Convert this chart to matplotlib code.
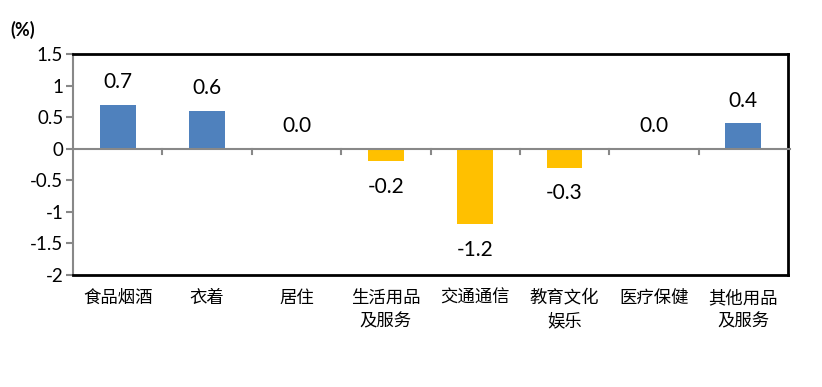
import matplotlib
matplotlib.use("Agg")
import matplotlib.pyplot as plt
import numpy as np

plt.rcParams['font.family'] = ['Lato', 'Noto Sans CJK SC', 'DejaVu Sans']

categories = ["食品烟酒", "衣着", "居住", "生活用品\n及服务", "交通通信", "教育文化\n娱乐", "医疗保健", "其他用品\n及服务"]
values = [0.7, 0.6, 0.0, -0.2, -1.2, -0.3, 0.0, 0.4]
yticks = [-2, -1.5, -1, -0.5, 0, 0.5, 1, 1.5]
ytick_labels = ["-2", "-1.5", "-1", "-0.5", "0", "0.5", "1", "1.5"]

W, H = 822, 387
fig = plt.figure(figsize=(W / 100, H / 100), dpi=100)
ax = fig.add_axes([73 / W, 1 - 275 / H, (788 - 73) / W, (275 - 54) / H])

x = np.arange(len(categories))
colors = ["#4F81BD" if v >= 0 else "#FFC000" for v in values]
ax.bar(x, values, width=0.4, color=colors, zorder=2)

ax.set_xlim(-0.5, len(categories) - 0.5)
ax.set_ylim(-2, 1.5)
ax.set_yticks(yticks)
ax.set_yticklabels(ytick_labels, fontsize=13.5, fontfamily=['Lato'])
ax.tick_params(axis='y', length=5, width=1.5, color='#888888', pad=2)
ax.set_xticks([])

for s in ['top', 'bottom', 'right']:
    ax.spines[s].set_color('black')
    ax.spines[s].set_linewidth(2)
ax.spines['left'].set_color('#888888')
ax.spines['left'].set_linewidth(1.5)

# zero axis line with tick marks between categories
ax.axhline(0, color='#888888', linewidth=1.5, zorder=3, xmax=1.003, clip_on=False)
for b in np.arange(0.5, len(categories) - 0.5, 1):
    ax.plot([b, b], [0, -0.09], color='#888888', linewidth=1.5, clip_on=False, zorder=3)

for xi, v in zip(x, values):
    off = 16.5 if v >= 0 else -18.5
    ax.annotate(f"{v:.1f}", (xi, v), xytext=(0, off), textcoords='offset points',
                ha='center', va='center', fontsize=15, fontfamily=['Lato'])

for xi, c in zip(x, categories):
    ax.text(xi, -2.22, c, ha='center', va='top', fontsize=12.5,
            fontfamily=['Noto Sans CJK SC'], linespacing=1.4,
            transform=ax.transData)

fig.text(10 / W, 1 - 30 / H, "(%)", fontsize=13, fontweight='bold', ha='left', va='center',
         fontfamily=['Lato'])

fig.savefig("out.png", dpi=100, facecolor='white')
